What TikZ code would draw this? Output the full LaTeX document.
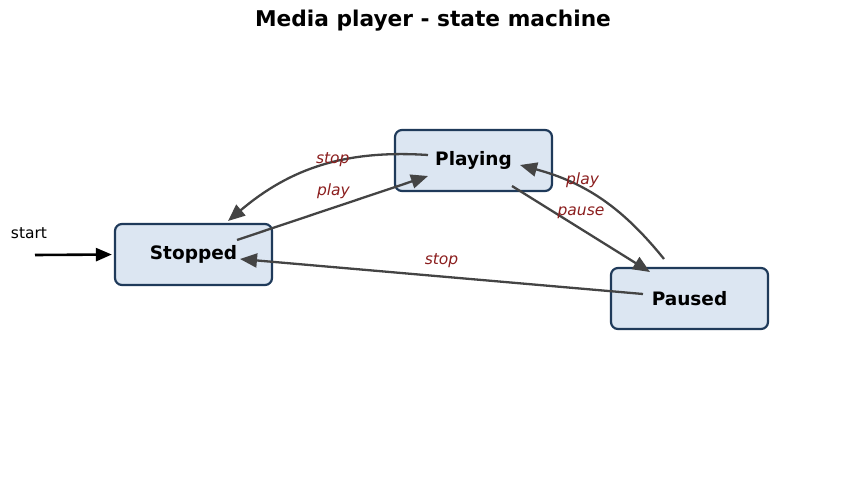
\documentclass[tikz,border=0pt]{standalone}
\usepackage{fontspec}
\setmainfont{DejaVu Sans}[ItalicFont={DejaVu Sans Oblique},BoldFont={DejaVu Sans Bold},BoldItalicFont={DejaVu Sans Bold Oblique}]
\usepackage{tikz}
\usetikzlibrary{arrows.meta}
\definecolor{statefill}{HTML}{DCE6F2}
\definecolor{stateline}{HTML}{1F3A5A}
\definecolor{edgegray}{HTML}{444444}
\definecolor{labelred}{HTML}{8B1E1E}

\begin{document}
\begin{tikzpicture}[x=1pt, y=-1pt, line join=round,
    state/.style={draw=stateline, fill=statefill, line width=2.2pt, rounded corners=7pt,
      minimum width=157pt, minimum height=61pt, font=\fontsize{18.5}{21}\selectfont\bfseries},
    trans/.style={draw=edgegray, line width=2.3pt, -{Triangle[length=17pt,width=14pt]}},
    lbl/.style={text=labelred, font=\fontsize{15.5}{18}\selectfont\itshape}]
  \useasboundingbox (0,0) rectangle (845,484);
  \node[font=\fontsize{21.7}{24}\selectfont\bfseries] (title) at (433,21) {Media player - state machine};
  \node[state] (stopped) at (193.5,254.5) {Stopped};
  \node[state] (playing) at (473.5,160.5) {Playing};
  \node[state] (paused) at (689.5,298.5) {Paused};
  \node[font=\fontsize{15.5}{18}\selectfont] (startlbl) at (29,233) {start};
  \coordinate (entry) at (35,255);
  \draw[line width=2.6pt, -{Triangle[length=16pt,width=13pt]}, shorten >=2pt] (entry) -- (stopped.west);
  \draw[trans] ([shift={(43.5,-14.5)}]stopped.center) -- node[lbl, midway, shift={(1,-17)}] (lplay) {play} ([shift={(-45.5,15.5)}]playing.center);
  \draw[trans] ([shift={(-45.5,-5.5)}]playing.center) to[bend right=22] node[lbl, midway, shift={(12,-6)}] (lstop) {stop} ([shift={(34.5,-33.5)}]stopped.center);
  \draw[trans] ([shift={(38.5,25.5)}]playing.center) -- node[lbl, midway, shift={(0,-16)}] (lpause) {pause} ([shift={(-39.5,-26.5)}]paused.center);
  \draw[trans] ([shift={(-25.5,-39.5)}]paused.center) to[bend right=18] node[lbl, midway, shift={(-18,-19)}] (lresume) {play} ([shift={(46.5,4.5)}]playing.center);
  \draw[trans] ([shift={(-46.5,-4.5)}]paused.center) -- node[lbl, midway, shift={(0,-16)}] (lhalt) {stop} ([shift={(46.5,4.5)}]stopped.center);
\end{tikzpicture}
\end{document}
